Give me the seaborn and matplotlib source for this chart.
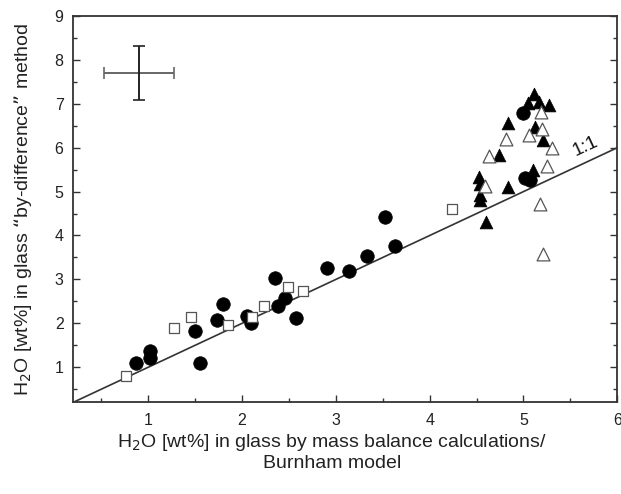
import matplotlib
matplotlib.use("Agg")
import matplotlib.pyplot as plt
from matplotlib.ticker import MultipleLocator
import numpy as np
import pandas as pd
import seaborn as sns

# H2O in glass: mass balance / Burnham model (x) vs "by-difference" method (y)
circle_x = [0.87, 1.02, 1.02, 1.50, 1.55, 1.73, 1.80, 2.05, 2.09, 2.35, 2.38,
            2.46, 2.57, 2.90, 3.14, 3.33, 3.52, 3.63, 4.99, 5.02, 5.07]
circle_y = [1.10, 1.37, 1.20, 1.83, 1.10, 2.07, 2.45, 2.17, 2.01, 3.04, 2.40,
            2.57, 2.11, 3.27, 3.20, 3.54, 4.43, 3.75, 6.78, 5.32, 5.27]

square_x = [0.76, 1.27, 1.46, 1.85, 2.11, 2.23, 2.49, 2.65, 4.24]
square_y = [0.81, 1.90, 2.15, 1.95, 2.15, 2.40, 2.82, 2.74, 4.60]

tri_fill_x = [5.11, 5.05, 5.17, 5.27, 4.84, 5.12, 5.21, 4.74, 4.53, 4.54,
              4.54, 4.54, 4.84, 5.10, 4.60]
tri_fill_y = [7.22, 7.02, 7.05, 6.98, 6.56, 6.48, 6.18, 5.83, 5.33, 5.18,
              4.92, 4.82, 5.11, 5.49, 4.31]

tri_open_x = [5.19, 4.81, 5.06, 5.20, 5.30, 4.63, 5.25, 4.59, 5.18, 5.21]
tri_open_y = [6.82, 6.19, 6.30, 6.42, 6.00, 5.81, 5.59, 5.13, 4.72, 3.58]

# typical analytical uncertainty (cross in upper-left)
err_center = (0.90, 7.70)
err_x, err_y = 0.37, 0.62

x_ticks = [1, 2, 3, 4, 5, 6]
y_ticks = [1, 2, 3, 4, 5, 6, 7, 8, 9]

sns.set_theme(style="white")
plt.rcParams["font.family"] = ["Liberation Sans", "DejaVu Sans"]

fig = plt.figure(figsize=(6.21, 4.94), dpi=100)
ax = fig.add_axes([0.118, 0.1856, 0.876, 0.782])

edge = "#333333"

# 1:1 reference line
ax.plot([0.2, 6.0], [0.2, 6.0], color="#333333", lw=1.2, zorder=1)
ax.text(5.66, 6.02, "1:1", rotation=25, fontsize=13.5, color="#111111",
        ha="center", va="center")

def frame(xs, ys):
    return pd.DataFrame({"x": xs, "y": ys})

sns.scatterplot(data=frame(circle_x, circle_y), x="x", y="y", ax=ax,
                marker="o", s=95, color="black", edgecolor="black",
                linewidth=0.5, zorder=3)
sns.scatterplot(data=frame(tri_fill_x, tri_fill_y), x="x", y="y", ax=ax,
                marker="^", s=85, color="black", edgecolor="black",
                linewidth=0.5, zorder=3)
sns.scatterplot(data=frame(tri_open_x, tri_open_y), x="x", y="y", ax=ax,
                marker="^", s=85, color="white", edgecolor="#555555",
                linewidth=0.9, zorder=4)
sns.scatterplot(data=frame(square_x, square_y), x="x", y="y", ax=ax,
                marker="s", s=62, color="white", edgecolor="#555555",
                linewidth=0.9, zorder=4)

# uncertainty cross
ax.errorbar(err_center[0], err_center[1], xerr=err_x, fmt="none",
            ecolor="#666666", elinewidth=1.4, capsize=4, capthick=1.2)
ax.errorbar(err_center[0], err_center[1], yerr=err_y, fmt="none",
            ecolor="#222222", elinewidth=1.4, capsize=4, capthick=1.2)

ax.set_xlim(0.2, 6.0)
ax.set_ylim(0.2, 9.0)
ax.set_xticks(x_ticks)
ax.set_yticks(y_ticks)
ax.xaxis.set_minor_locator(MultipleLocator(0.5))
ax.yaxis.set_minor_locator(MultipleLocator(0.5))
ax.tick_params(axis="both", which="both", direction="in", colors=edge,
               labelcolor="#222222", labelsize=11.5)
ax.tick_params(axis="y", which="both", right=True, left=True)
ax.tick_params(axis="x", which="both", bottom=True, top=False)
ax.tick_params(axis="x", which="major", length=5, width=1.0, pad=8)
ax.tick_params(axis="y", which="major", length=5, width=1.0, pad=7)
ax.tick_params(which="minor", length=3, width=1.0)

for sp in ax.spines.values():
    sp.set_color(edge)
    sp.set_linewidth(1.3)

ax.set_xlabel("H$_2$O [wt%] in glass by mass balance calculations/\nBurnham model",
              fontsize=14, color="#222222", linespacing=1.1)
ax.xaxis.set_label_coords(0.476, -0.078)
ax.set_ylabel("H$_2$O [wt%] in glass \u201cby-difference\u201d method",
              fontsize=14, color="#222222", labelpad=15)

fig.savefig("out.png", dpi=100, facecolor="white")
